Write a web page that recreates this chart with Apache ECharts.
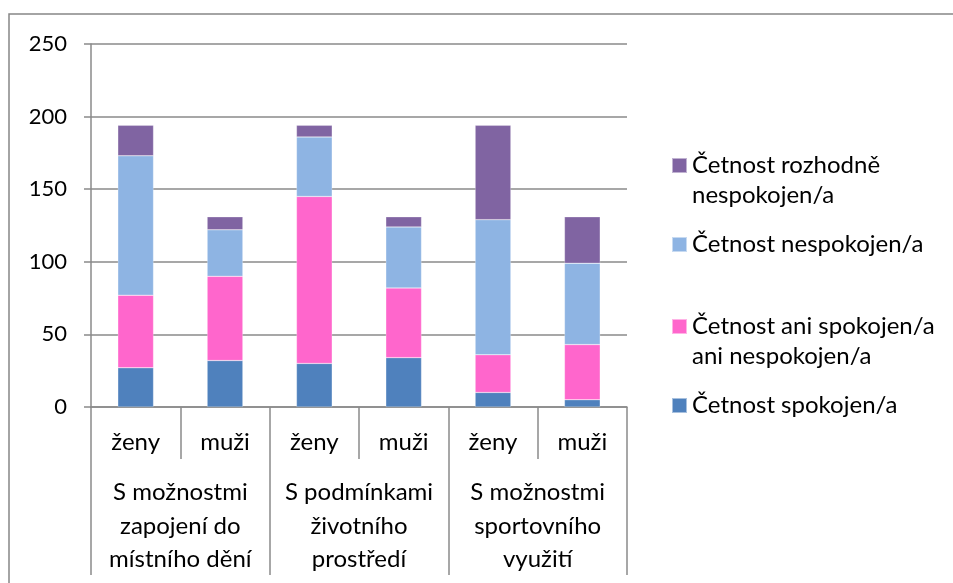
<!DOCTYPE html>
<html>
<head>
<meta charset="utf-8">
<script src="https://cdn.jsdelivr.net/npm/echarts@6/dist/echarts.min.js"></script>
<style>html,body{margin:0;padding:0;background:#fff}#c{width:953px;height:583px}</style>
</head>
<body>
<div id="c"></div>
<script>
var subCategories = ['ženy', 'muži', 'ženy', 'muži', 'ženy', 'muži'];
var groupCategories = ['S možnostmi\nzapojení do\nmístního dění', 'S podmínkami\nživotního\nprostředí', 'S možnostmi\nsportovního\nvyužití'];
var yTicks = [0, 50, 100, 150, 200, 250];
var seriesNames = ['Četnost spokojen/a', 'Četnost ani spokojen/a ani nespokojen/a', 'Četnost nespokojen/a', 'Četnost rozhodně nespokojen/a'];
var legendLabels = ['Četnost spokojen/a', 'Četnost ani spokojen/a\nani nespokojen/a', 'Četnost nespokojen/a', 'Četnost rozhodně\nnespokojen/a'];
var spokojen = [27, 32, 30, 34, 10, 5];
var aniSpokojen = [50, 58, 115, 48, 26, 38];
var nespokojen = [96, 32, 41, 42, 93, 56];
var rozhodneNespokojen = [21, 9, 8, 7, 65, 32];
var colors = ['#4F81BD', '#FF66CC', '#8EB4E3', '#8064A2'];

var FONT = 'Lato';
var GRAY = '#8a8a8a';
var values = [spokojen, aniSpokojen, nespokojen, rozhodneNespokojen];

var legendTops = [390.5, 281.5, 229.5, 120.5];
var legends = seriesNames.map(function (n, i) {
  var twoLine = legendLabels[i].indexOf('\n') >= 0;
  return {
    left: 671, top: legendTops[i], padding: 0,
    itemWidth: 15, itemHeight: 15, icon: 'rect',
    selectedMode: false,
    data: [n],
    formatter: function () { return (twoLine ? '\n' : '') + legendLabels[i]; },
    textStyle: {fontFamily: FONT, fontSize: 24, color: '#000', lineHeight: 30}
  };
});

var chart = echarts.init(document.getElementById('c'), null, {renderer: 'canvas'});
chart.setOption({
  animation: false,
  color: colors,
  graphic: [{
    type: 'rect', shape: {x: 9, y: 14, width: 1200, height: 1200},
    style: {fill: 'none', stroke: '#868686', lineWidth: 1.5}, silent: true, z: -1
  }],
  grid: {left: 91, right: 326, top: 44, bottom: 176},
  legend: legends,
  xAxis: [{
    type: 'category', data: subCategories, position: 'bottom',
    axisLine: {show: true, lineStyle: {color: GRAY, width: 1.5}},
    axisTick: {show: true, interval: 0, length: 52, lineStyle: {color: GRAY, width: 1.5}},
    axisLabel: {interval: 0, fontFamily: FONT, fontSize: 24, color: '#000', margin: 20, lineHeight: 30}
  }, {
    type: 'category', data: groupCategories, position: 'bottom',
    axisLine: {show: false},
    axisTick: {show: true, interval: 0, length: 168, lineStyle: {color: GRAY, width: 1.5}},
    axisLabel: {interval: 0, fontFamily: FONT, fontSize: 24, color: '#000', margin: 69, lineHeight: 33.5}
  }],
  yAxis: {
    type: 'value', min: yTicks[0], max: yTicks[yTicks.length - 1], interval: 50,
    axisLine: {show: true, lineStyle: {color: GRAY, width: 1.5}},
    axisTick: {show: true, length: 7, lineStyle: {color: GRAY, width: 1.5}},
    splitLine: {lineStyle: {color: GRAY, width: 1.5}},
    axisLabel: {fontFamily: FONT, fontSize: 22, color: '#000', margin: 24}
  },
  series: seriesNames.map(function (n, i) {
    return {
      name: n, type: 'bar', stack: 'total', barWidth: '40%',
      xAxisIndex: 0, data: values[i],
      itemStyle: {color: colors[i], borderColor: 'rgba(255,255,255,0.5)', borderWidth: 0.5}
    };
  })
});
</script>
</body>
</html>
